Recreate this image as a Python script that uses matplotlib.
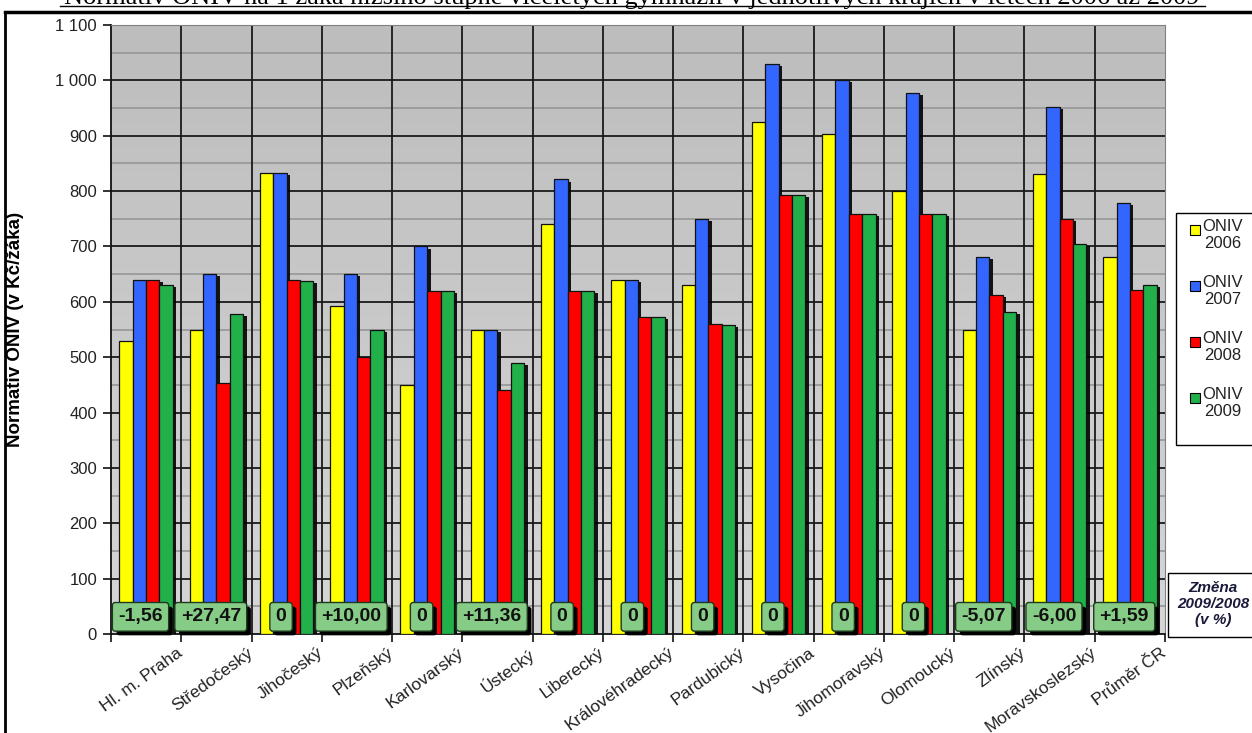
import numpy as np
import matplotlib
matplotlib.use("Agg")
import matplotlib.pyplot as plt
import matplotlib.patheffects as pe
from matplotlib.patches import Rectangle
from matplotlib.lines import Line2D

plt.rcParams['font.family'] = ['Liberation Sans', 'DejaVu Sans']

# data
regions = ["Hl. m. Praha", "Středočeský", "Jihočeský", "Plzeňský", "Karlovarský",
           "Ústecký", "Liberecký", "Královéhradecký", "Pardubický", "Vysočina",
           "Jihomoravský", "Olomoucký", "Zlínský", "Moravskoslezský", "Průměr ČR"]
oniv_2006 = [530, 550, 833, 592, 450, 550, 741, 640, 631, 924, 903, 800, 550, 830, 681]
oniv_2007 = [640, 651, 833, 651, 700, 550, 821, 640, 750, 1030, 1000, 977, 681, 952, 778]
oniv_2008 = [640, 454, 640, 500, 620, 440, 620, 573, 560, 793, 759, 759, 612, 750, 621]
oniv_2009 = [630, 578, 637, 549, 620, 489, 620, 573, 558, 793, 759, 759, 581, 705, 631]
change = ["-1,56", "+27,47", "0", "+10,00", "0", "+11,36", "0", "0", "0", "0",
          "0", "0", "-5,07", "-6,00", "+1,59"]
series_names = ["ONIV\n2006", "ONIV\n2007", "ONIV\n2008", "ONIV\n2009"]
colors = ['#FFFF00', '#3366FF', '#FF0000', '#22B04B']
title = ("Normativ ONIV na 1 žáka nižšího stupně víceletých gymnázií "
         "v jednotlivých krajích v letech 2006 až 2009")

W, H = 1252, 733
fig = plt.figure(figsize=(W / 100, H / 100), dpi=100)


def fx(x):
    return x / W


def fy(y):
    return 1 - y / H


ax = fig.add_axes([fx(111), fy(634), fx(1165 - 111), (634 - 25) / H])

# gray gradient background
grad = np.linspace(0, 1, 256).reshape(-1, 1)
ax.imshow(grad, extent=[0, 1, 0, 1], transform=ax.transAxes, aspect='auto',
          cmap=matplotlib.colors.LinearSegmentedColormap.from_list(
              'g', ['#d6d6d6', '#bdbdbd']), origin='lower', zorder=0)

n = len(regions)
x = np.arange(n)
ax.set_xlim(-0.5, n - 0.5)
ax.set_ylim(0, 1100)

# grid
for v in range(50, 1100, 100):
    ax.axhline(v, color='#9a9a9a', lw=1.3, zorder=1)
for v in range(100, 1101, 100):
    ax.axhline(v, color='#1a1a1a', lw=1.3, zorder=1)
for b in np.arange(0.5, n - 0.5, 1):
    ax.axvline(b, color='#1a1a1a', lw=1.3, zorder=1)

bw = 0.19
series = [oniv_2006, oniv_2007, oniv_2008, oniv_2009]
shadow = [pe.SimplePatchShadow(offset=(2.5, -1.5), shadow_rgbFace='black', alpha=0.9),
          pe.Normal()]
for k, vals in enumerate(series):
    ax.bar(x + (k - 1.5) * bw, vals, width=bw, color=colors[k], edgecolor='#111111',
           linewidth=0.9, zorder=3, path_effects=shadow)

# change labels
for i, lab in enumerate(change):
    t = ax.text(x[i] - 0.08, 31, lab, ha='center', va='center', fontsize=14,
                fontweight='bold', color='#111111', zorder=6,
                bbox=dict(boxstyle='round,pad=0.3,rounding_size=0.15', fc='#86cc86',
                          ec='#1d3a1d', lw=1))
    t.get_bbox_patch().set_path_effects(
        [pe.SimplePatchShadow(offset=(3, -3), shadow_rgbFace='black', alpha=1),
         pe.Normal()])

# axes styling
ax.set_yticks(range(0, 1101, 100))
ax.set_yticklabels([f"{v:,}".replace(",", " ") for v in range(0, 1101, 100)],
                   fontsize=12, color='#222222')
ax.set_xticks(np.arange(-0.5, n, 1))
ax.set_xticklabels([])
ax.tick_params(axis='x', length=6, width=1.2, color='#111111')
ax.tick_params(axis='y', length=6, width=1.2, color='#111111', pad=4)
for i, name in enumerate(regions):
    ax.text(x[i] + 0.43, -20, name, rotation=36, ha='right', va='top',
            rotation_mode='anchor', fontsize=12.5, color='#222222')
for s in ['left', 'bottom']:
    ax.spines[s].set_color('#111111')
    ax.spines[s].set_linewidth(1.3)
for s in ['top', 'right']:
    ax.spines[s].set_color('#808080')
ax.set_ylabel("Normativ ONIV (v Kč/žáka)", fontsize=13.5, fontweight='bold')
ax.yaxis.set_label_coords((24 - 111) / (1165 - 111), 0.5)

# legend (drawn by hand to match the layout)
fig.patches.append(Rectangle((fx(1176), fy(445)), fx(100), (445 - 213) / H,
                             transform=fig.transFigure, fc='white', ec='black', lw=1))
for k, name in enumerate(series_names):
    yc = 230 + k * 56
    fig.patches.append(Rectangle((fx(1190), fy(yc + 5)), fx(10), 10 / H,
                                 transform=fig.transFigure, fc=colors[k],
                                 ec='black', lw=0.8))
    fig.text(fx(1202), fy(yc - 11), name, ha='left', va='top', fontsize=12,
             color='#222222', multialignment='center', linespacing=1.2)

# "Změna" box
fig.patches.append(Rectangle((fx(1168), fy(637)), fx(100), (637 - 573) / H,
                             transform=fig.transFigure, fc='white', ec='black', lw=1))
fig.text(fx(1213), fy(604), "Změna\n2009/2008\n(v %)", ha='center', va='center',
         fontsize=11, fontweight='bold', style='italic', color='#1a1a3a',
         linespacing=1.15)

# title cut at the top and page frame
fig.text(fx(632), fy(4), title, ha='center', va='baseline', fontsize=19,
         family=['Liberation Serif', 'DejaVu Serif'])
fig.add_artist(Line2D([fx(60), fx(1205)], [fy(6), fy(6)], color='black', lw=1))
fig.add_artist(Line2D([fx(5), 1], [fy(12), fy(12)], color='black', lw=2.5))
fig.add_artist(Line2D([fx(5), fx(5)], [fy(12), 0], color='black', lw=2))

fig.savefig("out.png", dpi=100)
